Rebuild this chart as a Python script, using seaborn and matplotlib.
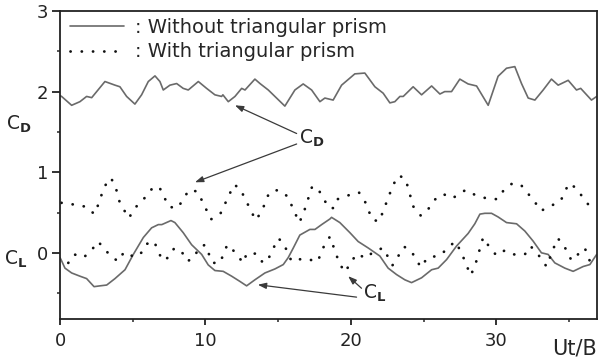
import numpy as np
import pandas as pd
import seaborn as sns
import matplotlib
matplotlib.use("Agg")
import matplotlib.pyplot as plt
from matplotlib.ticker import MultipleLocator

# ---- data ----
cd_without_x = [0.0, 0.11, 0.80, 1.37, 1.83, 2.18, 3.09, 3.78, 4.12, 4.58, 5.15, 5.61, 6.07, 6.53, 6.87, 7.10,
                7.56, 8.02, 8.47, 8.82, 9.51, 10.08, 10.65, 11.11, 11.2, 11.57, 12.03, 12.49, 12.72, 13.40,
                13.75, 14.32, 14.89, 15.46, 16.15, 16.72, 17.30, 17.87, 18.21, 18.78, 19.36, 20.27, 20.96,
                21.65, 22.22, 22.68, 23.02, 23.37, 23.6, 24.28, 24.86, 25.55, 26.12, 26.45, 26.92, 27.49,
                28.06, 28.64, 29.44, 30.12, 30.70, 31.27, 31.73, 32.19, 32.65, 33.22, 33.79, 34.25, 34.94,
                35.51, 35.8, 36.54, 36.9]
cd_without_y = [1.95, 1.94, 1.83, 1.875, 1.94, 1.925, 2.125, 2.08, 2.06, 1.94, 1.845, 1.96, 2.125, 2.195, 2.125,
                2.02, 2.08, 2.10, 2.04, 2.02, 2.125, 2.04, 1.96, 1.94, 1.96, 1.875, 1.94, 2.04, 2.02, 2.155,
                2.10, 2.02, 1.92, 1.82, 2.02, 2.095, 2.02, 1.875, 1.92, 1.895, 2.08, 2.22, 2.23,
                2.06, 1.98, 1.86, 1.875, 1.94, 1.94, 2.06, 1.96, 2.07, 1.97, 2.0, 2.0, 2.155,
                2.095, 2.07, 1.83, 2.19, 2.29, 2.31, 2.10, 1.92, 1.895, 2.02, 2.155, 2.08, 2.14,
                2.02, 2.04, 1.895, 1.94]

cd_with_x = [0.1, 0.34, 1.08, 1.83, 2.36, 2.59, 3.05, 3.48, 3.78, 4.12, 4.74, 5.11, 5.66, 6.46, 6.87, 7.49,
             8.09, 8.87, 9.46, 10.38, 11.04, 11.96, 12.37, 13.45, 13.86, 14.39, 15.0, 15.65, 16.45, 16.72,
             17.34, 17.75, 18.49, 18.85, 19.08, 19.77, 20.55, 20.96, 21.47, 21.95, 22.91, 23.30, 23.76,
             24.29, 24.81, 25.31, 25.77, 26.35, 26.92, 27.37, 27.88, 28.57, 29.33, 30.08, 30.52, 31.09,
             31.68, 32.65, 33.06, 33.72, 34.41, 34.98, 35.44, 36.36, 36.9]
cd_with_y = [0.62, 0.616, 0.595, 0.57, 0.48, 0.58, 0.82, 0.93, 0.845, 0.616, 0.43, 0.55, 0.645, 0.825, 0.80, 0.57,
             0.555, 0.78, 0.76, 0.415, 0.49, 0.845, 0.80, 0.405, 0.51, 0.75, 0.78, 0.70, 0.375, 0.48,
             0.825, 0.79, 0.555, 0.555, 0.665, 0.71, 0.75, 0.64, 0.41, 0.39, 0.845, 0.96, 0.915,
             0.575, 0.46, 0.54, 0.66, 0.73, 0.675, 0.715, 0.78, 0.715, 0.675, 0.665, 0.78, 0.86,
             0.845, 0.63, 0.52, 0.58, 0.64, 0.86, 0.81, 0.59, 0.645]

cl_without_x = [0.0, 0.07, 0.34, 0.80, 1.37, 1.83, 2.34, 2.75, 3.21, 3.78, 4.47, 5.04, 5.73, 6.30, 6.76, 7.0,
                7.63, 7.90, 8.47, 9.05, 9.74, 10.19, 10.65, 11.22, 11.8, 12.37, 12.83, 13.40, 14.09, 14.78,
                15.35, 15.69, 16.04, 16.49, 17.18, 17.53, 17.99, 18.56, 18.67, 19.24, 19.93, 20.5, 21.19,
                21.99, 22.56, 23.14, 23.71, 24.17, 24.86, 25.55, 26.0, 26.58, 27.26, 28.06, 28.52, 28.87,
                29.21, 29.67, 30.12, 30.70, 31.39, 31.96, 32.53, 33.1, 33.56, 34.02, 34.71, 35.28, 35.97,
                36.43, 36.9]
cl_without_y = [-0.06, -0.084, -0.19, -0.25, -0.29, -0.32, -0.42, -0.41, -0.40, -0.32, -0.21, -0.02, 0.19, 0.31, 0.35,
                0.35, 0.40, 0.375, 0.25, 0.10, -0.02, -0.15, -0.22, -0.23, -0.29, -0.355, -0.41, -0.335, -0.25,
                -0.20, -0.146, -0.06, 0.06, 0.22, 0.29, 0.29, 0.35, 0.42, 0.44, 0.375, 0.25, 0.14, 0.06,
                -0.04, -0.19, -0.27, -0.335, -0.37, -0.31, -0.21, -0.19, -0.084, 0.083, 0.24, 0.36, 0.48,
                0.49, 0.49, 0.445, 0.375, 0.36, 0.27, 0.145, 0.0, -0.02, -0.125, -0.19, -0.23, -0.17,
                -0.146, -0.02]

cl_with_x = [0.57, 0.99, 1.6, 2.13, 2.59, 3.05, 3.44, 4.01, 4.40, 5.15, 5.66, 5.96, 6.46, 6.76, 7.03, 7.49,
             7.86, 8.41, 8.75, 9.23, 9.51, 9.97, 10.49, 11.0, 11.5, 11.91, 12.6, 12.83, 13.52, 13.97, 14.39,
             15.0, 15.35, 15.92, 16.38, 16.84, 17.71, 18.21, 18.56, 19.24, 19.64, 19.93, 20.46, 21.0, 21.6,
             22.22, 22.86, 23.66, 24.12, 24.81, 25.27, 26.12, 27.15, 27.56, 28.23, 28.52, 29.09, 29.48,
             30.01, 30.58, 31.2, 31.96, 32.35, 32.83, 33.45, 34.2, 34.55, 35.17, 35.67, 36.08, 36.54]
cl_with_y = [-0.125, -0.02, -0.06, 0.02, 0.14, 0.06, -0.04, -0.105, 0.01, -0.055, 0.01, 0.11, 0.145, 0.02, -0.096, -0.055,
             0.06, 0.0, -0.105, -0.06, 0.054, 0.10, -0.125, -0.125, 0.10, 0.03, -0.125, -0.01, -0.01, -0.13, -0.05,
             0.18, 0.125, -0.105, -0.084, -0.07, -0.11, 0.11, 0.20, -0.146, -0.24, -0.125, -0.01, -0.07, 0.02,
             0.06, -0.155, 0.075, 0.03, -0.18, -0.06, -0.034, 0.14, 0.02, -0.28, -0.17, 0.19, 0.083,
             -0.034, 0.03, -0.02, -0.02, 0.083, -0.01, -0.17, 0.18, 0.125, -0.096, -0.01, 0.06, -0.155]

series_labels = [": Without triangular prism", ": With triangular prism"]
x_ticks = [0, 10, 20, 30]
y_ticks = [0, 1, 2, 3]

# ---- style ----
sns.set_style("ticks")
plt.rcParams['font.family'] = ['DejaVu Sans']
plt.rcParams['mathtext.fontset'] = 'dejavusans'

fig = plt.figure(figsize=(5.98, 3.62), dpi=100)
ax = fig.add_axes([60 / 598, 42.7 / 362, (596.7 - 60) / 598, (351 - 42.7) / 362])

solid_col = '#6a6a6a'
dot_col = '#111111'
dot_style = (0, (0.05, 4.0))

df_cdw = pd.DataFrame({'x': cd_without_x, 'y': cd_without_y})
df_clw = pd.DataFrame({'x': cl_without_x, 'y': cl_without_y})
df_cdp = pd.DataFrame({'x': cd_with_x, 'y': cd_with_y})
df_clp = pd.DataFrame({'x': cl_with_x, 'y': cl_with_y})

sns.lineplot(data=df_cdw, x='x', y='y', ax=ax, color=solid_col, lw=1.2, estimator=None, sort=False)
sns.lineplot(data=df_clw, x='x', y='y', ax=ax, color=solid_col, lw=1.2, estimator=None, sort=False)
sns.lineplot(data=df_cdp, x='x', y='y', ax=ax, color=dot_col, lw=2.0, estimator=None, sort=False,
             linestyle=dot_style, dash_capstyle='round')
sns.lineplot(data=df_clp, x='x', y='y', ax=ax, color=dot_col, lw=2.0, estimator=None, sort=False,
             linestyle=dot_style, dash_capstyle='round')

ax.set_xlim(0, 36.9)
ax.set_ylim(-0.825, 3.0)
ax.set_xticks(x_ticks)
ax.set_yticks(y_ticks)
ax.xaxis.set_minor_locator(MultipleLocator(5))
ax.yaxis.set_minor_locator(MultipleLocator(0.5))
ax.set_xlabel('')
ax.set_ylabel('')
for s in ax.spines.values():
    s.set_linewidth(1.3)
    s.set_color('#222222')
ax.tick_params(which='major', direction='out', width=1.3, labelsize=13, colors='#222222',
               top=False, right=False)
ax.tick_params(which='minor', direction='out', length=2.5, width=1.1, top=False, right=False)
ax.tick_params(axis='x', which='major', length=4, pad=5)
ax.tick_params(axis='y', which='major', length=5.5, pad=3)

# legend
h_solid = plt.Line2D([], [], color=solid_col, lw=1.2)
h_dot = plt.Line2D([], [], color=dot_col, lw=2.0, linestyle=dot_style, dash_capstyle='round')
leg = ax.legend([h_solid, h_dot], series_labels, loc='upper left', bbox_to_anchor=(0.018, 0.977),
                frameon=False, fontsize=14, handlelength=2.8, handletextpad=0.55, labelspacing=0.27,
                borderaxespad=0, borderpad=0)

# axis labels
fig.text(6 / 598, 1 - 124 / 362, r'C$_{\mathbf{D}}$', fontsize=13.5, ha='left', va='center')
fig.text(4 / 598, 1 - 259 / 362, r'C$_{\mathbf{L}}$', fontsize=13.5, ha='left', va='center')
fig.text(597 / 598, 1 - 348 / 362, 'Ut/B', fontsize=15, ha='right', va='center')

# annotations
arrow_kw = dict(arrowstyle='-|>,head_length=0.5,head_width=0.18', color='#3a3a3a', lw=0.9,
                shrinkA=0, shrinkB=0)
ax.text(16.45, 1.42, r'C$_{\mathbf{D}}$', fontsize=13.5, ha='left', va='center')
ax.annotate('', xy=(12.03, 1.83), xytext=(16.27, 1.48), arrowprops=arrow_kw)
ax.annotate('', xy=(9.28, 0.875), xytext=(16.27, 1.35), arrowprops=arrow_kw)
ax.text(20.8, -0.50, r'C$_{\mathbf{L}}$', fontsize=13.5, ha='left', va='center')
ax.annotate('', xy=(13.6, -0.396), xytext=(20.39, -0.55), arrowprops=arrow_kw)
ax.annotate('', xy=(19.81, -0.29), xytext=(20.73, -0.44), arrowprops=arrow_kw)

fig.savefig('out.png', dpi=100)
